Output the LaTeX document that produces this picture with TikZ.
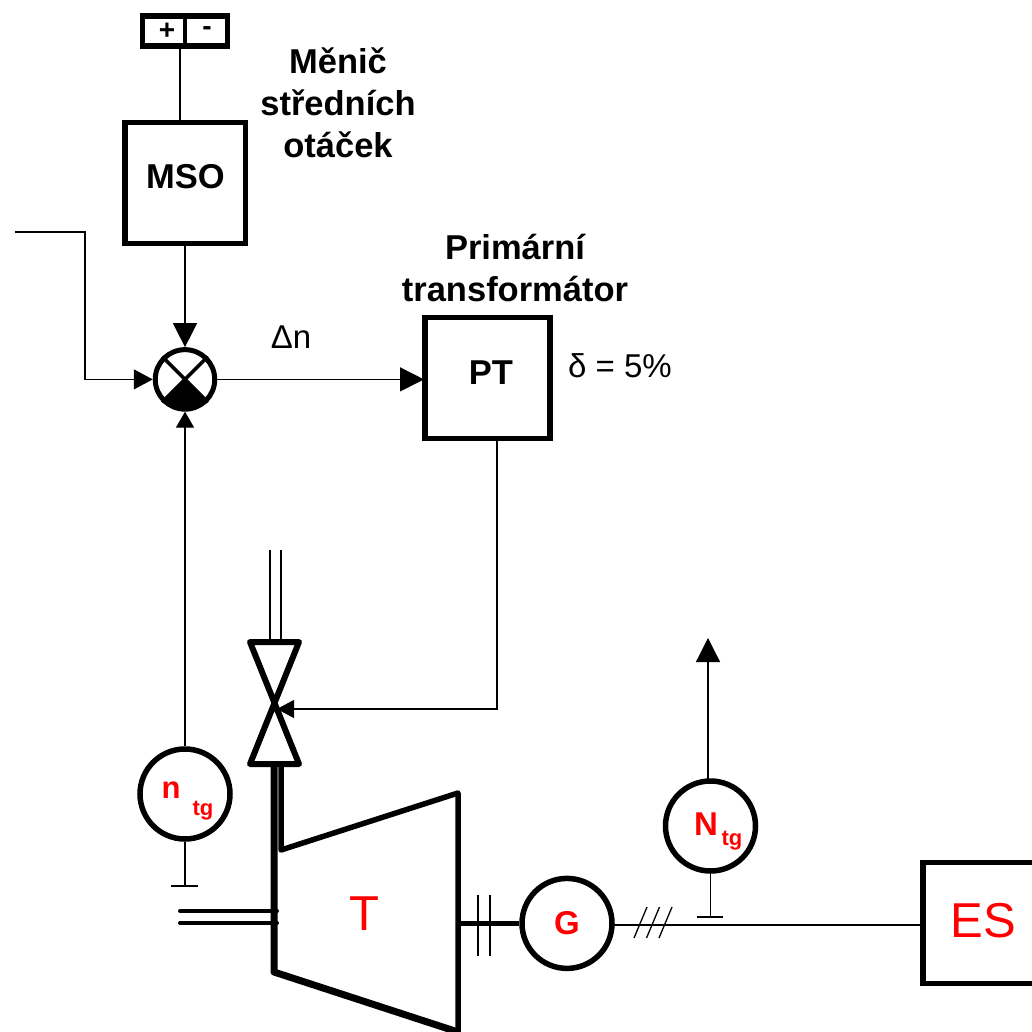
\documentclass[tikz,border=0pt]{standalone}
\usepackage{fontspec}
\setmainfont{Liberation Sans}
\usetikzlibrary{arrows.meta,calc}
\newcommand{\fsz}[1]{\fontsize{#1}{42}\selectfont}
\definecolor{ered}{RGB}{255,0,0}
\tikzset{
  x=1pt,y=-1pt,
  thin line/.style={line width=1.3pt},
  thick box/.style={draw,line width=5.5pt,inner sep=0pt},
  thick circ/.style={draw,circle,line width=5.5pt,minimum size=#1,inner sep=0pt},
  big head/.style={-{Triangle[length=24pt,width=24pt]}},
  mid head/.style={-{Triangle[length=19pt,width=20pt]}},
  low head/.style={-{Triangle[length=16pt,width=18pt]}},
  small head/.style={-{Triangle[length=17pt,width=18pt]}},
  caption/.style={font=\fsz{34.5}\bfseries,align=center,inner sep=0pt},
  plain label/.style={font=\fsz{33},inner sep=0pt},
  box label/.style={font=\fsz{34.5}\bfseries,inner sep=0pt},
  red big/.style={font=\fsz{49},text=ered,inner sep=0pt},
  heavy/.style={line width=6pt,line join=round,line cap=round},
  pipe/.style={line width=4pt,line cap=round},
}
\begin{document}
\begin{tikzpicture}
\useasboundingbox (0,0) rectangle (1032,1032);
% boxes
\node[thick box,minimum width=120.5pt,minimum height=120.5pt] (mso) at (185,183) {};
\node[box label] (msot) at (185.5,177) {MSO};
\node[thick box,minimum width=125pt,minimum height=121pt] (pt) at (487.5,378) {};
\node[box label] (ptt) at (491,373) {PT};
\node[thick box,minimum width=130pt,minimum height=121pt,anchor=west] (es) at (920,923) {};
\node[red big] (estxt) at (983,921) {ES};
% power supply terminal
\node[thick box,minimum width=85pt,minimum height=30pt] (term) at (185,31) {};
\draw[line width=3.5pt] (term.north) -- (term.south);
\node[font=\fsz{28}\bfseries,inner sep=0pt] (tpl) at (167,31) {+};
\node[font=\fsz{28}\bfseries,inner sep=0pt] (tml) at (207,31) {-};
% captions
\node[caption] (c1) at (338,102.5) {Měnič\\středních\\otáček};
\node[caption] (c2) at (515,268) {Primární\\transformátor};
\node[plain label] (dn) at (291,337) {Δn};
\node[plain label] (dl) at (620,366) {δ = 5\%};
% summing junction
\node[thick circ=59.5pt,line width=5pt] (sum) at (185,379.4) {};
\fill (sum.center) -- ($(sum.center)+(-21.2,21.2)$) arc[start angle=135,end angle=45,radius=30] -- cycle;
\draw[line width=3.5pt] (sum.45) -- (sum.225);
\draw[line width=3.5pt] (sum.135) -- (sum.315);
% instruments
\node[thick circ=90pt] (ntg) at (185,794) {};
\node[font=\fsz{31}\bfseries,text=ered,inner sep=0pt] (ntl) at (171,790) {n};
\node[font=\fsz{22}\bfseries,text=ered,inner sep=0pt] (ntl2) at (203,811) {tg};
\node[thick circ=90pt] (Ntg) at (710.5,826) {};
\node[font=\fsz{33}\bfseries,text=ered,inner sep=0pt] (Ntl) at (706,824) {N};
\node[font=\fsz{22}\bfseries,text=ered,inner sep=0pt] (Ntl2) at (732,841) {tg};
\node[thick circ=90pt,font=\fsz{33}\bfseries,text=ered] (g) at (567,923.4) {G};
% named free ends
\coordinate (in0) at (15,232);
\coordinate (in1) at (85,232);
\coordinate (in2) at (85,379.4);
\coordinate (termout) at (180,49);
\coordinate (msoin) at (180,122);
\coordinate (ptout) at (497,439);
\coordinate (ptc) at (497,709);
\coordinate (vtip) at (277,709);
\coordinate (up) at (708,638);
\coordinate (nbase) at (708,780);
\coordinate (ptin) at (424,379.4);
% connectors
\draw[thin line] (termout) -- (msoin);
\draw[thin line,big head] (mso.south) -- (sum.north);
\draw[thin line,mid head] (in0) -- (in1) -- (in2) -- (sum.west);
\draw[thin line,big head] (sum.east) -- (ptin);
\draw[thin line,low head] (ntg.north) -- (sum.south);
\draw[thin line,small head] (ptout) -- (ptc) -- (vtip);
\draw[thin line,big head] (nbase) -- (up);
% valve
\coordinate (va) at (250,642);
\coordinate (vb) at (299,642);
\coordinate (vc) at (250,764);
\coordinate (vd) at (299,764);
\draw[heavy] (va) -- (vb) -- (vc) -- (vd) -- (va) -- cycle;
\coordinate (s1) at (270,550);
\coordinate (s2) at (281,550);
\draw[thin line] (s1) -- (s1 |- va);
\draw[thin line] (s2) -- (s2 |- va);
% turbine
\coordinate (t1) at (274,764);
\coordinate (t2) at (274,972);
\coordinate (t3) at (458,1032);
\coordinate (t4) at (458,793);
\coordinate (t5) at (281,850);
\coordinate (t6) at (281,764);
\draw[line width=7pt,line join=round] (t1) -- (t2) -- (t3);
\draw[heavy,line width=5.5pt] (t3) -- (t4) -- (t5) -- (t6);
\node[red big] (ttxt) at (364,914) {T};
% steam outlet stubs
\coordinate (o1) at (180,911);
\coordinate (o2) at (180,923);
\coordinate (o3) at (277,911);
\coordinate (o4) at (277,923);
\draw[pipe] (o1) -- (o3);
\draw[pipe] (o2) -- (o4);
% shaft
\coordinate (sh) at (458,923.4);
\draw[line width=5pt] (sh) -- (g.west);
\coordinate (k1) at (478,895);
\coordinate (k2) at (478,956);
\coordinate (k3) at (490,895);
\coordinate (k4) at (490,956);
\draw[thin line] (k1) -- (k2);
\draw[thin line] (k3) -- (k4);
% electric line
\coordinate (gout) at (613,925);
\coordinate (esin) at (920,925);
\draw[thin line] (gout) -- (esin);
\foreach \i/\dx in {a/0,b/12.5,c/25}{
  \coordinate (sl\i1) at (634+\dx,938);
  \coordinate (sl\i2) at (647+\dx,907);
  \draw[thin line] (sl\i1) -- (sl\i2);
}
% sensors
\coordinate (b1) at (185,886);
\coordinate (b1l) at (171,886);
\coordinate (b1r) at (198,886);
\draw[thin line] (ntg.south) -- (b1);
\draw[thin line] (b1l) -- (b1r);
\coordinate (b2) at (710.5,917);
\coordinate (b2l) at (697,917);
\coordinate (b2r) at (723,917);
\draw[thin line] (Ntg.south) -- (b2);
\draw[thin line] (b2l) -- (b2r);
\end{tikzpicture}
\end{document}
